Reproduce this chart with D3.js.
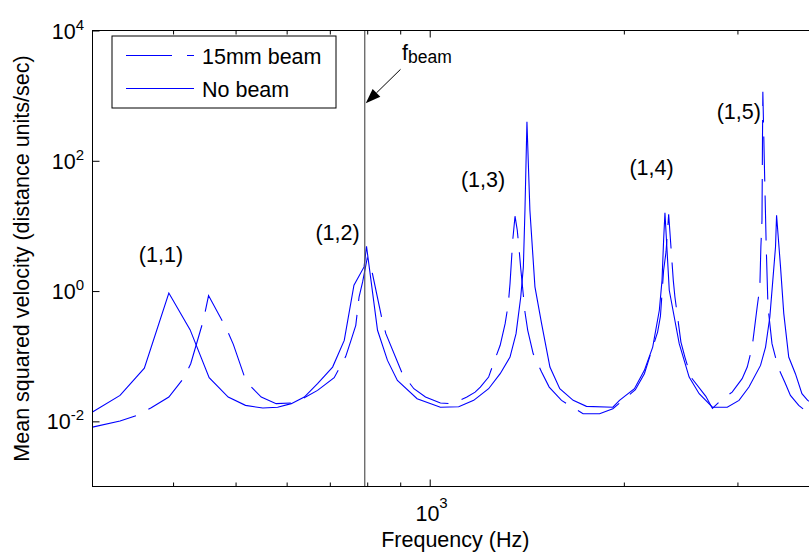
<!DOCTYPE html>
<html>
<head>
<meta charset="utf-8">
<script src="https://cdn.jsdelivr.net/npm/d3@7"></script>
<style>
body{margin:0;background:#fff;}
text{font-family:"Liberation Sans",Arial,Helvetica,sans-serif;fill:#000;}
</style>
</head>
<body>
<svg id="chart"></svg>
<script>
// 15mm beam (dashed)
var freqBeam=[300, 331, 351, 370, 394, 416, 426, 446, 454, 484,
  496, 518, 526, 548, 578, 610, 635, 670, 711, 741,
  755, 768, 777, 787, 800, 815, 842, 855, 907, 945,
  985, 1039, 1083, 1142, 1176, 1198, 1234, 1255, 1286, 1309,
  1324, 1332, 1345, 1356, 1367, 1377, 1384, 1405, 1419, 1447,
  1491, 1532, 1601, 1729, 1834, 1923, 2084, 2152, 2256, 2279,
  2305, 2325, 2347, 2386, 2400, 2452, 2487, 2541, 2680, 2744,
  2828, 2944, 3051, 3107, 3162, 3219, 3250, 3262, 3275, 3281,
  3285, 3302, 3325, 3346, 3394, 3468, 3552, 3625, 3734, 3846,
  3980];
var valBeam=[0.00815, 0.0101, 0.0123, 0.0162, 0.0236, 0.0468, 0.0768, 0.364, 0.852, 0.265,
  0.152, 0.0436, 0.0357, 0.0236, 0.0187, 0.0191, 0.0223, 0.0299, 0.0468, 0.0995,
  0.175, 0.298, 0.811, 1.38, 3.19, 1.86, 0.400, 0.222, 0.0539, 0.0317,
  0.0236, 0.0191, 0.0187, 0.0236, 0.0281, 0.0336, 0.0478, 0.0768, 0.147, 0.316,
  0.642, 1.30, 6.03, 14.1, 8.59, 3.99, 2.22, 0.477, 0.250, 0.109,
  0.0571, 0.0336, 0.0210, 0.0131, 0.0131, 0.0156, 0.0306, 0.0539, 0.235, 0.410,
  2.09, 3.99, 15.1, 1.46, 0.811, 0.165, 0.0970, 0.0478, 0.0242, 0.0158,
  0.0210, 0.0281, 0.0452, 0.0681, 0.138, 0.569, 1.16, 4.76, 12.2, 233,
  1147, 102, 4.76, 0.569, 0.156, 0.0681, 0.0401, 0.0250, 0.0176, 0.0139,
  0.0119];

// No beam (solid)
var freqNoBeam=[300, 331, 361, 394, 425, 455, 487, 518, 551, 581,
  610, 639, 670, 707, 737, 763, 791, 798, 830, 860,
  891, 956, 1039, 1109, 1170, 1234, 1286, 1332, 1361, 1384,
  1397, 1405, 1415, 1430, 1456, 1491, 1536, 1591, 1669, 1750,
  1923, 1969, 2077, 2152, 2217, 2270, 2292, 2305, 2316, 2352,
  2437, 2525, 2617, 2744, 2893, 3017, 3126, 3258, 3317, 3368,
  3404, 3437, 3450, 3499, 3540, 3603, 3690, 3777, 3855, 3990];
var valNoBeam=[0.0139, 0.0250, 0.0657, 0.934, 0.256, 0.0468, 0.0236, 0.0176, 0.0160, 0.0165,
  0.0187, 0.0236, 0.0379, 0.0681, 0.175, 1.23, 2.35, 4.88, 0.250, 0.0863,
  0.0425, 0.0223, 0.0165, 0.0168, 0.0210, 0.0317, 0.0539, 0.0970, 0.222, 0.811,
  2.35, 17.4, 397, 17.4, 1.16, 0.316, 0.0681, 0.0317, 0.0210, 0.0170,
  0.0165, 0.0210, 0.0317, 0.0606, 0.138, 0.507, 1.46, 6.03, 15.9, 1.03,
  0.156, 0.0478, 0.0266, 0.0165, 0.0165, 0.0210, 0.0336, 0.0723, 0.138, 0.400,
  1.46, 4.76, 14.6, 2.35, 0.451, 0.0970, 0.0539, 0.0266, 0.0210, 0.0170];

var seriesNames=["15mm beam","No beam"];
var xDomain=[300,4000];
var yDomain=[1e-3,1e4];
var xMajorTicks=[1000];
var xMinorTicks=[400,500,600,700,800,900,2000,3000];
var yTicks=[1e-2,1,1e2,1e4];
var yTickExp=["-2","0","2","4"];
var xTickExp=["3"];

var fBeam=793;
// mode labels: [text, freq, value] (text start / baseline)
var modeLabels=[["(1,1)",354,2.77],["(1,2)",665,6.03],["(1,3)",1118,39.4],["(1,4)",2040,60.2],["(1,5)",2786,436]];

var width=809, height=553;
var plotL=92.5, plotR=818, plotT=30.5, plotB=486.5;
var fs=21.5;

var svg=d3.select("#chart").attr("width",width).attr("height",height);
svg.append("rect").attr("width",width).attr("height",height).attr("fill","white");

var x=d3.scaleLog().domain(xDomain).range([plotL,plotR]);
var y=d3.scaleLog().domain(yDomain).range([plotB,plotT]);

svg.append("clipPath").attr("id","plotclip")
  .append("rect").attr("x",plotL).attr("y",plotT).attr("width",plotR-plotL).attr("height",plotB-plotT);

var line=d3.line()
  .x(function(d){return x(d[0]);})
  .y(function(d){return y(d[1]);});

svg.append("path")//15mm beam
  .datum(d3.zip(freqBeam,valBeam))
  .attr("clip-path","url(#plotclip)")
  .attr("fill","none")
  .attr("stroke","#0000ff")
  .attr("stroke-width",1.1)
  .attr("stroke-dasharray","45,14")
  .attr("d",line);

svg.append("path")//no beam
  .datum(d3.zip(freqNoBeam,valNoBeam))
  .attr("clip-path","url(#plotclip)")
  .attr("fill","none")
  .attr("stroke","#0000ff")
  .attr("stroke-width",1.1)
  .attr("d",line);

//f_beam line
svg.append("line")
  .attr("x1",x(fBeam)).attr("x2",x(fBeam))
  .attr("y1",plotT).attr("y2",plotB)
  .attr("stroke","#555").attr("stroke-width",1.2);

//frame
svg.append("rect")
  .attr("x",plotL).attr("y",plotT).attr("width",plotR-plotL).attr("height",plotB-plotT)
  .attr("fill","none").attr("stroke","black").attr("stroke-width",1);

function ticks(axis,vals,len,ty){
  var g=svg.append("g").attr("transform","translate(0,"+ty+")")
    .call(axis.tickValues(vals).tickSize(-len).tickFormat(""));
  g.select(".domain").remove();
  g.selectAll("line").attr("stroke","black");
}
ticks(d3.axisBottom(x),xMajorTicks,7,plotB);
ticks(d3.axisBottom(x),xMinorTicks,4,plotB);
ticks(d3.axisTop(x),xMajorTicks,7,plotT);
ticks(d3.axisTop(x),xMinorTicks,4,plotT);
var gy=svg.append("g").attr("transform","translate("+plotL+",0)")
  .call(d3.axisLeft(y).tickValues(yTicks).tickSize(-7).tickFormat(""));
gy.select(".domain").remove();
gy.selectAll("line").attr("stroke","black");

//tick labels
yTicks.forEach(function(v,i){
  var t=svg.append("text").attr("x",84).attr("y",y(v)+8)
    .attr("text-anchor","end").attr("font-size",fs);
  t.append("tspan").text("10");
  t.append("tspan").attr("dy",-9).attr("font-size",15).text(yTickExp[i]);
});
xMajorTicks.forEach(function(v,i){
  var t=svg.append("text").attr("x",x(v)+18).attr("y",521)
    .attr("text-anchor","end").attr("font-size",fs);
  t.append("tspan").text("10");
  t.append("tspan").attr("dy",-13).attr("font-size",15).text(xTickExp[i]);
});

//axis labels
svg.append("text")
  .attr("x",(plotL+plotR)/2).attr("y",547)
  .attr("text-anchor","middle").attr("font-size",fs)
  .text("Frequency (Hz)");
svg.append("text")
  .attr("transform","translate(29,"+((plotT+plotB)/2)+") rotate(-90)")
  .attr("text-anchor","middle").attr("font-size",fs)
  .text("Mean squared velocity (distance units/sec)");

//mode labels
modeLabels.forEach(function(m){
  svg.append("text").attr("x",x(m[1])).attr("y",y(m[2]))
    .attr("font-size",fs).text(m[0]);
});

//f_beam annotation
var tail=[x(901),y(2533)], tip=[x(fBeam)+1,y(761)];
var ang=Math.atan2(tip[1]-tail[1],tip[0]-tail[0]);
var hl=15, hw=5.5;
var base=[tip[0]-hl*Math.cos(ang),tip[1]-hl*Math.sin(ang)];
svg.append("line")
  .attr("x1",tail[0]).attr("y1",tail[1]).attr("x2",base[0]).attr("y2",base[1])
  .attr("stroke","black").attr("stroke-width",1);
svg.append("path")
  .attr("d","M"+tip[0]+","+tip[1]
    +"L"+(base[0]-hw*Math.sin(ang))+","+(base[1]+hw*Math.cos(ang))
    +"L"+(base[0]+hw*Math.sin(ang))+","+(base[1]-hw*Math.cos(ang))+"Z")
  .attr("fill","black");
var ft=svg.append("text").attr("x",x(906)).attr("y",y(3584)).attr("font-size",fs);
ft.append("tspan").text("f");
ft.append("tspan").attr("dy",3.2).attr("font-size",17.5).text("beam");

//legend
var lg=svg.append("g");
lg.append("rect").attr("x",112).attr("y",36).attr("width",224).attr("height",72)
  .attr("fill","white").attr("stroke","black").attr("stroke-width",1);
seriesNames.forEach(function(n,i){
  var ly=55.5+i*33;
  lg.append("line").attr("x1",126).attr("x2",194).attr("y1",ly).attr("y2",ly)
    .attr("stroke","#0000ff").attr("stroke-width",1.1)
    .attr("stroke-dasharray",i==0?"46,15":null);
  lg.append("text").attr("x",202).attr("y",ly+8.5).attr("font-size",fs).text(n);
});
</script>
</body>
</html>
